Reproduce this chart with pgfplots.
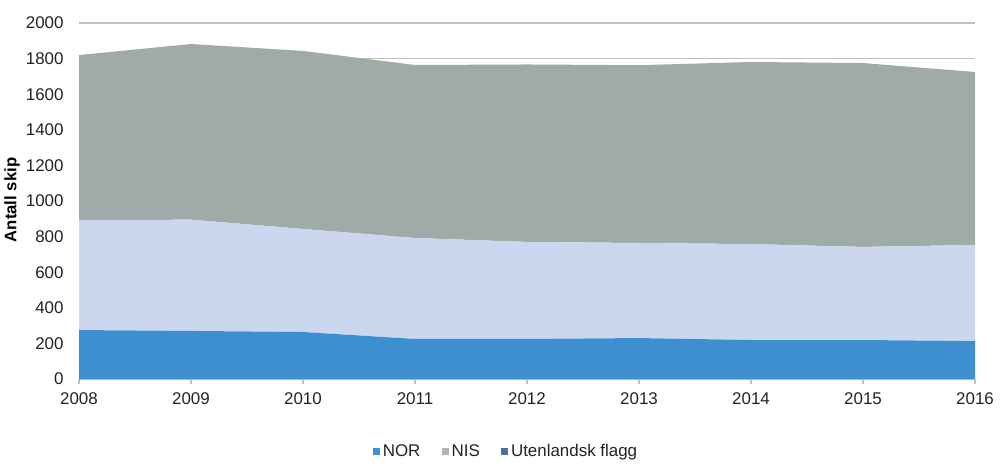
\documentclass[border=0pt]{standalone}
\usepackage{fontspec}
\setmainfont{Liberation Sans}
\usepackage{pgfplots}
\pgfplotsset{compat=1.18}
\definecolor{norblue}{RGB}{61,143,208}
\definecolor{lightlav}{RGB}{203,215,239}
\definecolor{nisgray}{RGB}{160,170,168}
\definecolor{legnor}{RGB}{61,146,214}
\definecolor{legnis}{RGB}{179,179,179}
\definecolor{legutl}{RGB}{74,111,165}
\definecolor{gridc}{RGB}{192,192,192}
\definecolor{txt}{RGB}{34,34,34}
\begin{document}
\fontsize{12.5}{15}\selectfont
\begin{tikzpicture}
\useasboundingbox (0,0) rectangle (750pt,356.25pt);
\begin{axis}[
  at={(59.25pt,72pt)}, anchor=south west,
  scale only axis, width=672pt, height=267pt,
  xmin=2008, xmax=2016, ymin=0, ymax=2000,
  xtick={2008,2009,2010,2011,2012,2013,2014,2015,2016},
  ytick={0,200,400,600,800,1000,1200,1400,1600,1800,2000},
  /pgf/number format/1000 sep={},
  /pgf/number format/assume math mode=true,
  axis x line=bottom, axis y line=left,
  x axis line style={-, draw=gridc, line width=0.8pt},
  y axis line style={draw=none},
  ytick style={draw=none},
  xtick style={draw=gridc, line width=0.8pt},
  tick align=outside, major tick length=3.75pt,
  ymajorgrids, grid style={draw=gridc, line width=0.8pt},
  tick label style={font=\fontsize{12.7}{15}\selectfont, text=txt},
  yticklabel style={xshift=-3.5pt},
  xticklabel style={yshift=-2pt},
  ylabel={\bfseries Antall skip},
  ylabel style={at={(axis description cs:-0.0748,0.503)}, anchor=center, font=\fontsize{12.5}{15}\selectfont, text=black},
  stack plots=y,
  legend style={at={(0.477,-0.204)}, anchor=center, draw=none, fill=none,
    legend columns=3, font=\fontsize{12.7}{15}\selectfont, text=txt,
    /tikz/every even column/.append style={column sep=14pt}},
  legend image code/.code={\fill[#1] (0pt,-2.7pt) rectangle (5.4pt,2.7pt);},
]
\addplot[fill=norblue, draw=none, forget plot] coordinates {
(2008,275) (2009,270) (2010,264) (2011,225) (2012,225) (2013,230) (2014,219) (2015,219) (2016,213)} \closedcycle;
\addplot[fill=lightlav, draw=none, forget plot] coordinates {
(2008,618) (2009,625) (2010,579) (2011,567) (2012,545) (2013,534) (2014,539) (2015,523) (2016,540)} \closedcycle;
\addplot[fill=nisgray, draw=none, forget plot] coordinates {
(2008,927) (2009,987) (2010,1000) (2011,972) (2012,997) (2013,999) (2014,1023) (2015,1033) (2016,972)} \closedcycle;
\addlegendimage{fill=legnor, draw=none}
\addlegendentry{NOR}
\addlegendimage{fill=legnis, draw=none}
\addlegendentry{NIS}
\addlegendimage{fill=legutl, draw=none}
\addlegendentry{Utenlandsk flagg}
\end{axis}
\end{tikzpicture}
\end{document}
